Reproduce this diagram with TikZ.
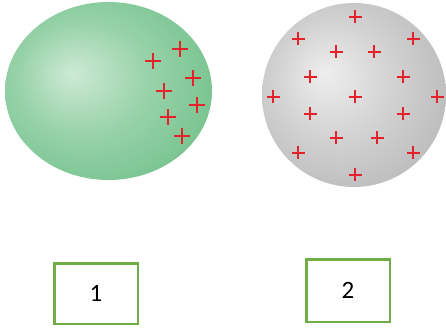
\documentclass[tikz,border=0pt]{standalone}
\usepackage{fontspec}
\setmainfont{Carlito}
\usepackage{tikz}
\usetikzlibrary{positioning}
\definecolor{vclaro}{HTML}{CDEAD4}
\definecolor{voscuro}{HTML}{6CBE86}
\definecolor{gclaro}{HTML}{EEEEEE}
\definecolor{goscuro}{HTML}{B0B0B2}
\definecolor{rcarga}{HTML}{E3222B}
\definecolor{vborde}{HTML}{70AD47}
\pgfdeclareradialshading{esferaverde}{\pgfpoint{-9bp}{5bp}}{%
  color(0bp)=(vclaro); color(16bp)=(vclaro!45!voscuro); color(36bp)=(voscuro); color(50bp)=(voscuro!94!black)}
\pgfdeclareradialshading{esferagris}{\pgfpoint{-8bp}{6bp}}{%
  color(0bp)=(gclaro); color(16bp)=(gclaro!55!goscuro); color(38bp)=(goscuro); color(50bp)=(goscuro)}

\begin{document}
\begin{tikzpicture}[x=1pt, y=-1pt, font=\fontsize{25}{30}\selectfont,
    signo/.style={draw=rcarga, line width=2pt},
    caja/.style={draw=vborde, line width=2.5pt, minimum width=83.5pt, inner sep=0pt, text=black}]
  \useasboundingbox (0,0) rectangle (446,328);
  % esferas
  \shade[shading=esferaverde] (108.5,91) ellipse [x radius=103.5, y radius=89];
  \shade[shading=esferagris] (354,95) circle [radius=92];
  % cargas
  \foreach \x/\y in {180/49, 153/61, 193/78, 164/91, 197/105, 168/117, 182/136}
    \draw[signo] (\x-8,\y) -- (\x+8,\y) (\x,\y-8) -- (\x,\y+8);
  \foreach \x/\y in {355/17, 298/39, 413/39, 336/52, 374/52, 310/77, 403/77,
      273/97, 355/97, 437/97, 310/114, 403/114, 336/138, 377/138, 298/153, 413/153, 355/175}
    \draw[signo] (\x-6.5,\y) -- (\x+6.5,\y) (\x,\y-6.5) -- (\x,\y+6.5);
  % rotulos
  \node[caja, minimum height=60.5pt] (caja1) at (96,293.5) {1};
  \node[caja, minimum height=62.5pt] (caja2) at (348,290.5) {2};
\end{tikzpicture}
\end{document}
